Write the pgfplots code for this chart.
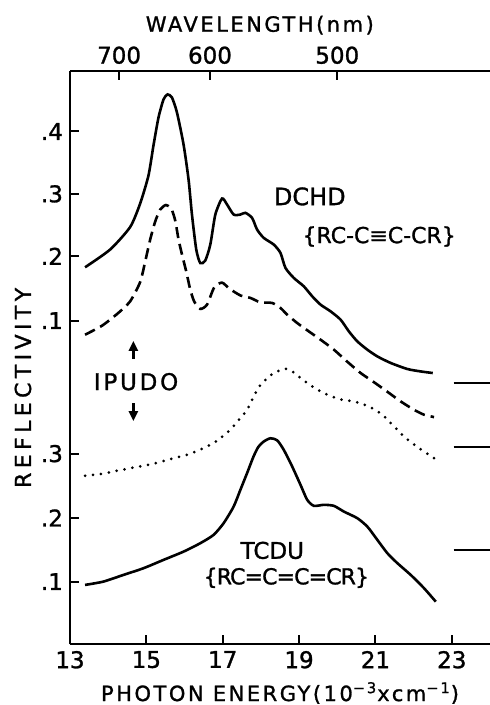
\documentclass[border=0pt]{standalone}
\usepackage{fontspec}
\setmainfont{DejaVu Sans}[FakeBold=1.2]
\newfontfamily\spaced{DejaVu Sans}[LetterSpace=12,FakeBold=1.2]
\newfontfamily\wide{DejaVu Sans}[LetterSpace=20,FakeBold=1.2]
\newfontfamily\tight{DejaVu Sans}[LetterSpace=-4,FakeBold=1.2]
\usepackage{pgfplots}
\usepackage{pgfplotstable}
\pgfplotsset{compat=1.18}
\usetikzlibrary{arrows.meta}

% curves in plotted units (upper pair offset on the upper scale)
\pgfplotstableread{
x y
13.394 0.5917
14.050 0.6195
14.575 0.6549
14.837 0.6918
15.055 0.7358
15.186 0.7830
15.318 0.8270
15.449 0.8553
15.554 0.8632
15.669 0.8585
15.801 0.8349
15.974 0.7846
16.105 0.7296
16.194 0.6745
16.307 0.6195
16.412 0.5983
16.543 0.6022
16.675 0.6274
16.806 0.6745
16.982 0.6997
17.113 0.6903
17.286 0.6745
17.462 0.6745
17.593 0.6772
17.769 0.6693
17.900 0.6509
18.073 0.6379
18.336 0.6274
18.512 0.6143
18.643 0.5907
18.861 0.5750
19.123 0.5618
19.344 0.5461
19.562 0.5330
19.824 0.5225
20.087 0.5094
20.304 0.4910
20.525 0.4753
20.787 0.4623
21.050 0.4517
21.399 0.4414
21.837 0.4319
22.186 0.4281
22.501 0.4256
}\dchd

\pgfplotstableread{
x y
13.394 0.4858
13.840 0.5000
14.260 0.5197
14.575 0.5382
14.837 0.5684
14.969 0.6006
15.100 0.6352
15.231 0.6635
15.362 0.6824
15.512 0.6895
15.651 0.6840
15.756 0.6651
15.843 0.6352
15.940 0.6101
16.045 0.5849
16.150 0.5566
16.255 0.5377
16.412 0.5263
16.588 0.5330
16.780 0.5605
16.982 0.5676
17.173 0.5582
17.462 0.5475
17.724 0.5436
17.987 0.5366
18.294 0.5357
18.512 0.5278
18.688 0.5173
18.950 0.5042
19.255 0.4910
19.562 0.4780
19.911 0.4623
20.262 0.4434
20.612 0.4256
20.961 0.4112
21.312 0.3962
21.661 0.3810
22.010 0.3679
22.273 0.3601
22.535 0.3564
}\ipudoup

\pgfplotstableread{
x y
13.394 0.2642
13.787 0.2668
14.226 0.2720
14.661 0.2772
15.144 0.2825
15.625 0.2904
16.063 0.2972
16.499 0.3077
16.850 0.3192
17.199 0.3365
17.462 0.3549
17.638 0.3679
17.811 0.3888
17.934 0.4025
18.073 0.4124
18.336 0.4256
18.643 0.4324
18.819 0.4281
19.037 0.4178
19.344 0.4046
19.648 0.3942
20.042 0.3847
20.436 0.3810
20.829 0.3731
21.181 0.3601
21.486 0.3417
21.793 0.3234
22.142 0.3077
22.535 0.2920
}\ipudolow

\pgfplotstableread{
x y
13.394 0.0928
13.874 0.0980
14.399 0.1085
14.924 0.1190
15.449 0.1321
15.974 0.1451
16.412 0.1583
16.761 0.1714
17.024 0.1898
17.286 0.2159
17.462 0.2421
17.638 0.2684
17.803 0.2940
17.934 0.3097
18.073 0.3180
18.249 0.3231
18.425 0.3200
18.598 0.3050
18.819 0.2788
19.037 0.2500
19.213 0.2264
19.386 0.2170
19.648 0.2186
19.911 0.2170
20.173 0.2080
20.525 0.1976
20.787 0.1844
21.050 0.1635
21.312 0.1426
21.575 0.1269
21.924 0.1085
22.273 0.0876
22.580 0.0665
}\tcdu

\begin{document}
\begin{tikzpicture}
\pgfplotsset{
  frame/.style={scale only axis, width=210pt, height=286.5pt,
    xmin=13, xmax=24, ymin=0, ymax=0.9,
    tick align=inside, major tick length=4.5pt,
    tick style={line width=1pt, black},
    axis line style={line width=1.2pt},
    every tick label/.append style={font=\fontsize{11.5}{12}\selectfont}},
}
\begin{axis}[frame, name=main,
  axis x line*=bottom, axis y line*=left,
  xtick={13,15,17,19,21,23}, xticklabels={13,15,17,19,21,23},
  ytick={0.098,0.198,0.299,0.508,0.609,0.707,0.805},
  yticklabels={.1,.2,.3,.1,.2,.3,.4},
  clip=false,
  xlabel={\spaced PHOTON ENERGY(10\textsuperscript{−3}xcm\textsuperscript{−1})},
  xlabel style={at={(axis description cs:0.5,-0.0855)}, anchor=center, font=\fontsize{10.5}{12}\selectfont},
  ylabel={\wide REFLECTIVITY},
  ylabel style={at={(axis description cs:-0.112,0.447)}, anchor=center, font=\fontsize{11}{12}\selectfont},
]
\addplot[black, line width=1.3pt, smooth, tension=0.4] table {\dchd};
\addplot[black, line width=1.3pt, smooth, tension=0.4, dash pattern=on 5.5pt off 3pt] table {\ipudoup};
\addplot[black, line width=1.5pt, smooth, tension=0.4, line cap=round, dash pattern=on 0pt off 4pt] table {\ipudolow};
\addplot[black, line width=1.3pt, smooth, tension=0.4] table {\tcdu};

% zero markers at the right
\addplot[black, line width=1.2pt] coordinates {(23.05,0.4104)(24,0.4104)};
\addplot[black, line width=1.2pt] coordinates {(23.05,0.3097)(24,0.3097)};
\addplot[black, line width=1.2pt] coordinates {(23.05,0.1478)(24,0.1478)};

\node[anchor=center, font=\fontsize{10.5}{12}\selectfont] at (axis description cs:0.452,1.080) {\spaced WAVELENGTH(nm)};

\node[anchor=west, inner sep=0pt, font=\fontsize{12}{12}\selectfont] at (axis cs:18.33,0.703) {DCHD};
\node[anchor=west, inner sep=0pt, font=\fontsize{11}{12}\selectfont] at (axis cs:19.08,0.640) {\{RC-C≡C-CR\}};
\node[anchor=center, font=\fontsize{11.5}{12}\selectfont] at (axis cs:14.73,0.412) {\spaced IPUDO};
\draw[line width=1.2pt, -{Triangle[length=5pt,width=4.5pt]}] (axis cs:14.66,0.448) -- (axis cs:14.66,0.476);
\draw[line width=1.2pt, -{Triangle[length=5pt,width=4.5pt]}] (axis cs:14.66,0.378) -- (axis cs:14.66,0.350);
\node[anchor=west, inner sep=0pt, font=\fontsize{11.5}{12}\selectfont] at (axis cs:17.46,0.147) {TCDU};
\node[anchor=west, inner sep=0pt, font=\fontsize{11}{12}\selectfont] at (axis cs:16.49,0.104) {\tight\{RC=C=C=CR\}};
\end{axis}

\begin{axis}[frame, at={(main.south west)}, anchor=south west,
  axis x line*=top, axis y line=none,
  xtick={14.2857,16.6667,20}, xticklabels={700,600,500},
]
\end{axis}

\pgfresetboundingbox
\path[use as bounding box] (main.south west) ++(-35pt,-30.5pt) rectangle ++(245pt,352.5pt);
\end{tikzpicture}
\end{document}
